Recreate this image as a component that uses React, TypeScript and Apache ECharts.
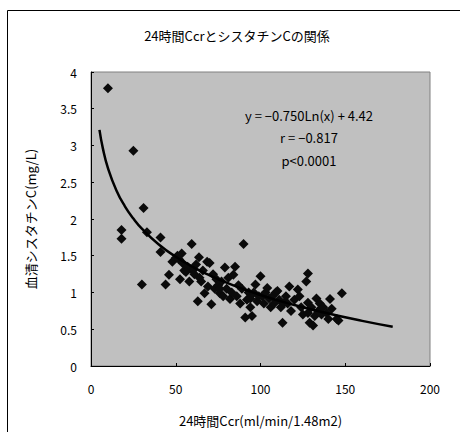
import React, { useEffect, useRef } from "react";
import * as echarts from "echarts";

const titleText = "24時間CcrとシスタチンCの関係";
const xAxisName = "24時間Ccr(ml/min/1.48m2)";
const yAxisName = "血清シスタチンC(mg/L)";
const annotationLines = ["y = −0.750Ln(x) + 4.42", "r = −0.817", "p<0.0001"];

const xTicks = [0, 50, 100, 150, 200];
const yTicks = [0, 0.5, 1, 1.5, 2, 2.5, 3, 3.5, 4];

// measured points: [Ccr, cystatin C]
const ccrValues = [
  10, 25, 31, 18, 18, 30, 33, 41, 41, 44, 46, 48, 50, 51, 52, 53.5, 54, 52.5, 55, 57,
  58, 59.4, 60, 61, 62, 63, 63.7, 65, 66, 67, 68.5, 69, 70, 71, 72, 73, 74, 75, 76, 77,
  78, 79, 80, 81, 82, 83, 84, 85, 86, 87, 88, 89, 90, 91, 92, 93, 94, 95, 96, 97,
  98, 99, 100, 101, 102, 103, 104, 105, 106, 107, 108, 109, 110, 111, 112, 113, 114, 115, 116, 117,
  118, 120, 122, 123, 124, 125, 127, 128, 128, 128, 129, 130, 131, 132, 133, 134, 135, 136, 137, 139,
  140, 141, 142, 145, 146, 148, 56, 64, 76, 94,
];
const cystatinValues = [
  3.78, 2.93, 2.15, 1.85, 1.73, 1.11, 1.82, 1.75, 1.55, 1.11, 1.24, 1.42, 1.47, 1.5, 1.45, 1.53, 1.4, 1.18, 1.3, 1.35,
  1.15, 1.66, 1.3, 1.25, 1.38, 0.88, 1.48, 1.15, 1.3, 0.99, 1.42, 1.08, 1.4, 0.84, 1.25, 1.05, 1.18, 1.1, 0.99, 1.15,
  0.95, 1.34, 1.05, 1.2, 0.91, 1.0, 1.24, 1.35, 0.95, 1.1, 0.85, 1.05, 1.66, 0.66, 0.9, 1.0, 0.8, 0.68, 1.0, 1.11,
  0.88, 0.95, 1.22, 0.95, 0.85, 1.0, 1.06, 0.92, 0.8, 0.95, 0.85, 1.0, 1.02, 0.9, 0.8, 0.59, 0.86, 0.95, 0.85, 1.08,
  0.75, 0.9, 1.04, 0.95, 0.8, 0.7, 1.15, 1.26, 0.86, 0.72, 0.59, 0.8, 0.55, 0.68, 0.92, 0.75, 0.85, 0.7, 0.8, 0.72,
  0.64, 0.91, 0.78, 0.64, 0.62, 0.99, 1.28, 1.2, 1.05, 0.92,
];

// fitted logarithmic trend line, read at these Ccr values
const trendX = [5, 7, 10, 15, 20, 25, 30, 40, 50, 60, 70, 80, 100, 120, 140, 160, 178];
const trendY = [3.213, 2.961, 2.693, 2.389, 2.173, 2.006, 1.869, 1.653, 1.486, 1.349, 1.234, 1.134, 0.966, 0.829, 0.714, 0.614, 0.534];

const FONT = "'Noto Sans CJK JP', 'Noto Sans', sans-serif";

export default function App() {
  const ref = useRef<HTMLDivElement>(null);

  useEffect(() => {
    if (!ref.current) return;
    const chart = echarts.init(ref.current, null, { renderer: "svg" });
    const scatterData = ccrValues.map((x, i) => [x, cystatinValues[i]]);
    const trendData = trendX.map((x, i) => [x, trendY[i]]);

    chart.setOption({
      animation: false,
      backgroundColor: "#ffffff",
      title: {
        text: titleText,
        left: 232,
        top: 24,
        textAlign: "center",
        textStyle: { fontFamily: FONT, fontSize: 13, fontWeight: "normal", color: "#000" },
      },
      grid: {
        left: 91,
        top: 72,
        right: 30,
        bottom: 61,
        show: true,
        backgroundColor: "#c0c0c0",
        borderColor: "#808080",
        borderWidth: 1,
      },
      xAxis: {
        type: "value",
        min: 0,
        max: 200,
        interval: 50,
        name: xAxisName,
        nameLocation: "middle",
        nameGap: 48,
        nameTextStyle: { fontFamily: FONT, fontSize: 13, color: "#000" },
        axisLine: { show: true, lineStyle: { color: "#000", width: 1 } },
        axisTick: { show: true, inside: true, length: 3, lineStyle: { color: "#000" } },
        axisLabel: {
          fontFamily: FONT,
          fontSize: 12,
          color: "#000",
          margin: 16,
          formatter: (v: number) => (xTicks.includes(v) ? String(v) : ""),
        },
        splitLine: { show: false },
      },
      yAxis: {
        type: "value",
        min: 0,
        max: 4,
        interval: 0.5,
        name: yAxisName,
        nameLocation: "middle",
        nameGap: 54,
        nameRotate: 90,
        nameTextStyle: { fontFamily: FONT, fontSize: 13, color: "#000" },
        axisLine: { show: true, lineStyle: { color: "#000", width: 1 } },
        axisTick: { show: true, inside: true, length: 3, lineStyle: { color: "#000" } },
        axisLabel: {
          fontFamily: FONT,
          fontSize: 12,
          color: "#000",
          margin: 14,
          formatter: (v: number) => (yTicks.includes(v) ? String(v) : ""),
        },
        splitLine: { show: false },
      },
      series: [
        {
          type: "scatter",
          data: scatterData,
          symbol: "diamond",
          symbolSize: 10,
          itemStyle: { color: "#0a0a0a", opacity: 1 },
          z: 3,
        },
        {
          type: "line",
          data: trendData,
          smooth: true,
          showSymbol: false,
          lineStyle: { color: "#000", width: 2.5 },
          z: 4,
        },
      ],
      graphic: [
        {
          type: "rect",
          shape: { x: 7.5, y: 10.5, width: 600, height: 600 },
          style: { fill: "none", stroke: "#000", lineWidth: 1 },
          silent: true,
        },
        ...annotationLines.map((t, i) => ({
          type: "text",
          x: 309,
          y: 115 + i * 22.5,
          style: {
            text: t,
            fontFamily: FONT,
            fontSize: 13,
            fill: "#000",
            textAlign: "center",
            textVerticalAlign: "middle",
          },
          z: 10,
        })),
      ],
    });

    return () => chart.dispose();
  }, []);

  return (
    <div
      ref={ref}
      style={{ position: "fixed", left: 0, top: 0, width: 460, height: 432 }}
    />
  );
}
